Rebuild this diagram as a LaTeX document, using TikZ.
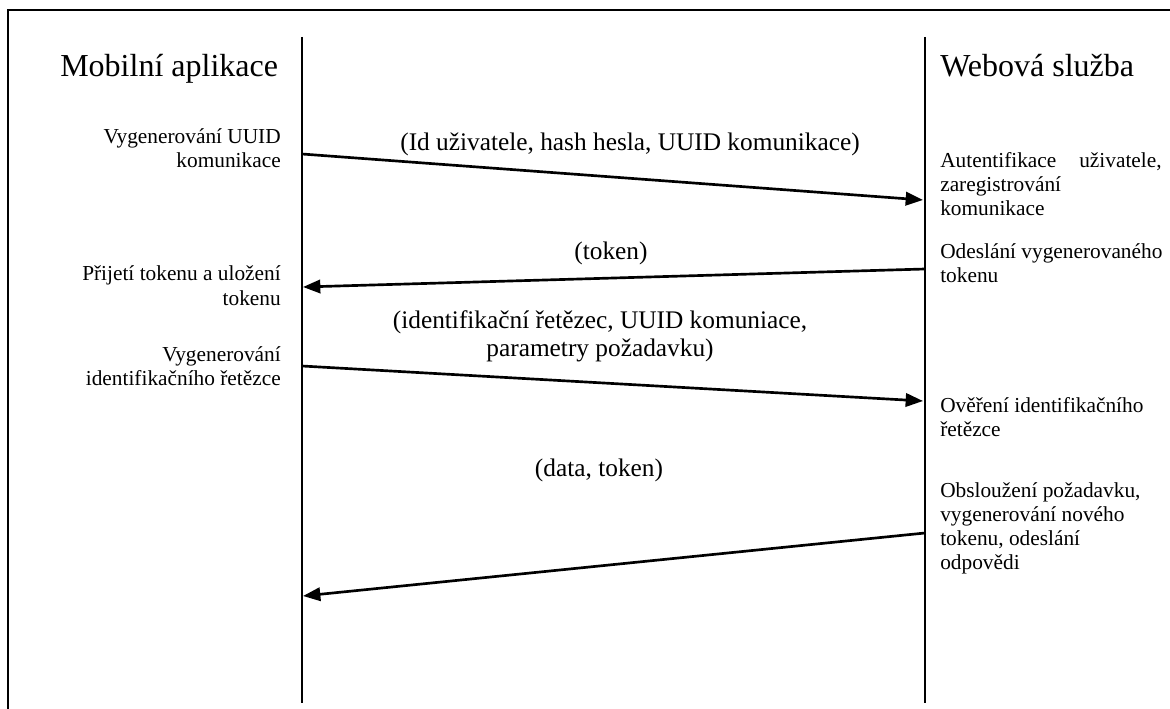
\documentclass[tikz,border=0pt]{standalone}
\usepackage{fontspec}
\setmainfont{Liberation Serif}
\usetikzlibrary{arrows.meta}

\begin{document}
\begin{tikzpicture}[x=0.75pt,y=-0.75pt,
  frame/.style={line width=1.5pt},
  lifeline/.style={line width=2.2pt},
  msg/.style={line width=2pt,-{Triangle[length=13pt,width=10pt]}},
  actor/.style={font=\fontsize{24}{28}\selectfont, inner sep=0pt},
  note/.style={font=\fontsize{16}{18}\selectfont, inner sep=0pt},
  msglabel/.style={font=\fontsize{19}{21}\selectfont, inner sep=0pt}]
\useasboundingbox (0,0) rectangle (1170,709);

% outer frame (left and top edges)
\draw[frame] (8,709) -- (8,10) -- (1170,10);

% lifelines
\coordinate (mTop) at (302,37);  \coordinate (mBot) at (302,703);
\coordinate (wTop) at (925,37);  \coordinate (wBot) at (925,703);
\draw[lifeline] (mTop) -- (mBot);
\draw[lifeline] (wTop) -- (wBot);

% participants
\node[actor, anchor=base west] (mobile) at (60,77) {Mobilní aplikace};
\node[actor, anchor=base west] (web) at (940,77) {Webová služba};

% message end points on the lifelines
\coordinate (m1s) at (302,154); \coordinate (m1e) at (923,200);
\coordinate (m2s) at (925,269); \coordinate (m2e) at (303,287);
\coordinate (m3s) at (302,366); \coordinate (m3e) at (923,401);
\coordinate (m4s) at (925,533); \coordinate (m4e) at (303,596);

\draw[msg] (m1s) -- (m1e);
\draw[msg] (m2s) -- (m2e);
\draw[msg] (m3s) -- (m3e);
\draw[msg] (m4s) -- (m4e);

% message labels
\node[msglabel, anchor=base] (l1) at (630,151) {(Id uživatele, hash hesla, UUID komunikace)};
\node[msglabel, anchor=base] (l2) at (611,260) {(token)};
\node[msglabel, anchor=base] (l3) at (600,328)
  {\begin{tabular}[t]{@{}c@{}}(identifikační řetězec, UUID komuniace,\\parametry požadavku)\end{tabular}};
\node[msglabel, anchor=base] (l4) at (599,476) {(data, token)};

% actions of the mobile application
\node[note, anchor=base east] (a1) at (281,144)
  {\begin{tabular}[t]{@{}r@{}}Vygenerování UUID\\komunikace\end{tabular}};
\node[note, anchor=base east] (a2) at (281,281)
  {\begin{tabular}[t]{@{}r@{}}Přijetí tokenu a uložení\\tokenu\end{tabular}};
\node[note, anchor=base east] (a3) at (281,361)
  {\begin{tabular}[t]{@{}r@{}}Vygenerování\\identifikačního řetězce\end{tabular}};

% actions of the web service
\node[note, anchor=base west] (b1) at (940,168)
  {\begin{tabular}[t]{@{}l@{}}\makebox[166pt][s]{Autentifikace uživatele,}\\zaregistrování\\komunikace\end{tabular}};
\node[note, anchor=base west] (b2) at (940,258)
  {\begin{tabular}[t]{@{}l@{}}Odeslání vygenerovaného\\tokenu\end{tabular}};
\node[note, anchor=base west] (b3) at (940,412)
  {\begin{tabular}[t]{@{}l@{}}Ověření identifikačního\\řetězce\end{tabular}};
\node[note, anchor=base west] (b4) at (940,497)
  {\begin{tabular}[t]{@{}l@{}}Obsloužení požadavku,\\vygenerování nového\\tokenu, odeslání\\odpovědi\end{tabular}};
\end{tikzpicture}
\end{document}
